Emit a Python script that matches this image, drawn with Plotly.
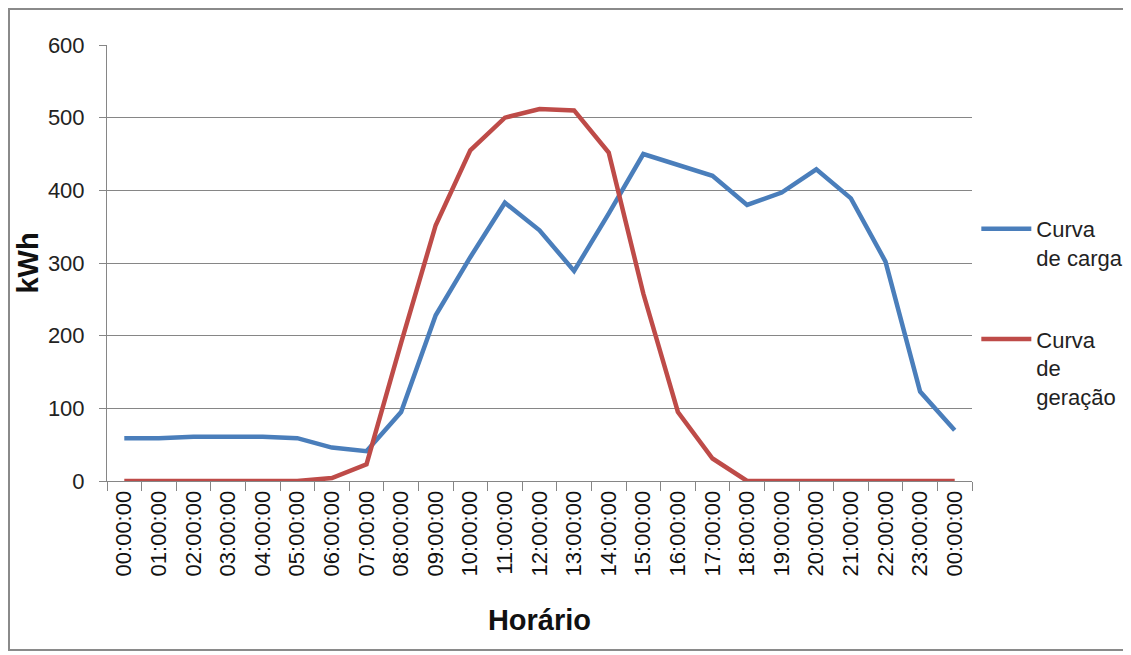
import plotly.graph_objects as go

hours = ["00:00:00", "01:00:00", "02:00:00", "03:00:00", "04:00:00", "05:00:00",
         "06:00:00", "07:00:00", "08:00:00", "09:00:00", "10:00:00", "11:00:00",
         "12:00:00", "13:00:00", "14:00:00", "15:00:00", "16:00:00", "17:00:00",
         "18:00:00", "19:00:00", "20:00:00", "21:00:00", "22:00:00", "23:00:00",
         "00:00:00"]
carga = [59, 59, 61, 61, 61, 59, 46, 41, 95, 228, 308, 383, 345, 289, 368, 450,
         435, 420, 380, 397, 429, 389, 302, 123, 70]
geracao = [0, 0, 0, 0, 0, 0, 4, 23, 190, 352, 455, 500, 512, 510, 452, 258,
           95, 31, 0, 0, 0, 0, 0, 0, 0]
y_ticks = [0, 100, 200, 300, 400, 500, 600]

x = list(range(len(hours)))
FONT = "Liberation Sans, Arial, sans-serif"

fig = go.Figure()
fig.add_trace(go.Scatter(x=x, y=carga, mode="lines", name="Curva<br>de carga",
                         legendgroup="carga",
                         line=dict(color="#4A7EBB", width=4.5)))
fig.add_trace(go.Scatter(x=x, y=geracao, mode="lines", name="Curva<br>de<br>geração",
                         legendgroup="geracao",
                         line=dict(color="#BE4B48", width=4.5)))

fig.update_layout(
    width=1123, height=647,
    margin=dict(l=99, r=159, t=37, b=174, autoexpand=False),
    paper_bgcolor="white", plot_bgcolor="white",
    font=dict(family=FONT, size=22, color="#222222"),
    showlegend=True,
    legend=dict(x=1.005, y=0.626, xanchor="left", yanchor="top",
                valign="top", tracegroupgap=50, traceorder="grouped",
                font=dict(size=22, color="#222222"), itemwidth=50,
                bgcolor="rgba(0,0,0,0)"),
    xaxis=dict(
        range=[-0.5, len(hours) - 0.5], automargin=False,
        tickmode="array", tickvals=x, ticktext=hours,
        tickangle=-90, ticks="", showgrid=False, zeroline=False,
        showline=True, linecolor="#868686", linewidth=1,
        tickfont=dict(size=22, color="#111111"),
        minor=dict(tick0=-0.5, dtick=1, ticks="outside", ticklen=9,
                   tickcolor="#868686", tickwidth=1, showgrid=False),
        title=dict(text="<b>Horário</b>", font=dict(size=29, color="#111111"), standoff=34),
    ),
    yaxis=dict(
        range=[0, 600], tickmode="array", tickvals=y_ticks, automargin=False,
        ticks="outside", ticklen=7, tickcolor="#868686", ticklabelstandoff=10,
        showgrid=True, gridcolor="#868686", gridwidth=1,
        zeroline=False, showline=True, linecolor="#868686", linewidth=1,
        tickfont=dict(size=22, color="#222222"),
        title=dict(text="<b>kWh</b>", font=dict(size=29, color="#111111"), standoff=0),
    ),
    shapes=[dict(type="rect", xref="paper", yref="paper",
                 x0=-0.1133, x1=1.1803, y0=-0.3876, y1=1.0826,
                 line=dict(color="#8A8A8A", width=2), fillcolor="rgba(0,0,0,0)",
                 layer="below")],
)

fig.write_html("out.html")
